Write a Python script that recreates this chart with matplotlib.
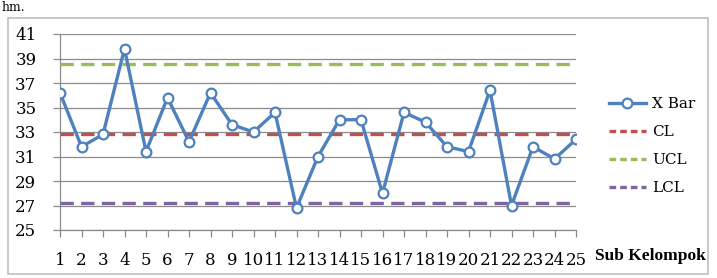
import matplotlib.pyplot as plt
import matplotlib.patches as mpatches
from matplotlib.lines import Line2D

# data
sub_groups = list(range(1, 26))
x_bar = [36.2, 31.8, 32.8, 39.8, 31.4, 35.8, 32.2, 36.2, 33.6, 33.0,
         34.6, 26.8, 31.0, 34.0, 34.0, 28.0, 34.6, 33.8, 31.8, 31.4,
         36.4, 27.0, 31.8, 30.8, 32.4]
cl = 32.85
ucl = 38.52
lcl = 27.18
y_ticks = list(range(25, 42, 2))

BLUE = "#4F81BD"
RED = "#C0504D"
GREEN = "#9BBB59"
PURPLE = "#8064A2"
GRID = "#8C8C8C"
FONT = "DejaVu Serif"

fig = plt.figure(figsize=(7.17, 2.78), dpi=100)
ax = fig.add_axes([60 / 717, 1 - 230 / 278, 516 / 717, 196 / 278])

# outer chart border
fig.patches.append(mpatches.Rectangle((8 / 717, 1 - 274 / 278), 700 / 717, 256 / 278,
                                      transform=fig.transFigure, fill=False,
                                      ec="#BFBFBF", lw=1.2))
fig.text(0.002, 0.998, "hm.", family=FONT, fontsize=9, va="top", ha="left")

n = len(sub_groups)
ax.plot(sub_groups, x_bar, color=BLUE, lw=2.4, marker="o", ms=7,
        mfc="white", mec=BLUE, mew=1.6, zorder=5)
ax.plot(sub_groups, [cl] * n, color=RED, lw=2.4, ls=(0, (4, 2.2)), zorder=4)
ax.plot(sub_groups, [ucl] * n, color=GREEN, lw=2.4, ls=(0, (4, 2.2)), zorder=4)
ax.plot(sub_groups, [lcl] * n, color=PURPLE, lw=2.4, ls=(0, (4, 2.2)), zorder=4)

ax.set_xlim(1, 25)
ax.set_ylim(25, 41)
ax.set_yticks(y_ticks)
ax.set_xticks(sub_groups)
ax.yaxis.grid(True, color=GRID, lw=0.9)
ax.set_axisbelow(True)
for side in ("top", "right"):
    ax.spines[side].set_visible(False)
for side in ("left", "bottom"):
    ax.spines[side].set_color(GRID)
    ax.spines[side].set_linewidth(0.9)
ax.tick_params(axis="both", color=GRID, length=5, width=0.9)
ax.tick_params(axis="x", pad=11)
ax.tick_params(axis="y", pad=12)
for lab in ax.get_xticklabels() + ax.get_yticklabels():
    lab.set_family(FONT)
    lab.set_fontsize(12)

fig.text(650 / 717, 1 - 256 / 278, "Sub Kelompok", family="Liberation Serif", fontsize=12.5,
         fontweight="bold", ha="center", va="center")

handles = [
    Line2D([], [], color=BLUE, lw=2.4, marker="o", ms=7, mfc="white", mec=BLUE, mew=1.6),
    Line2D([], [], color=RED, lw=2.4, ls=(0, (2, 1.2))),
    Line2D([], [], color=GREEN, lw=2.4, ls=(0, (2, 1.2))),
    Line2D([], [], color=PURPLE, lw=2.4, ls=(0, (2, 1.2))),
]
fig.legend(handles, ["X Bar", "CL", "UCL", "LCL"], loc="upper left",
           bbox_to_anchor=(603 / 717, 1 - 91 / 278), frameon=False,
           prop={"family": FONT, "size": 11}, handlelength=2.4,
           handletextpad=0.4, labelspacing=0.92, borderaxespad=0)

fig.savefig("out.png", dpi=100)
